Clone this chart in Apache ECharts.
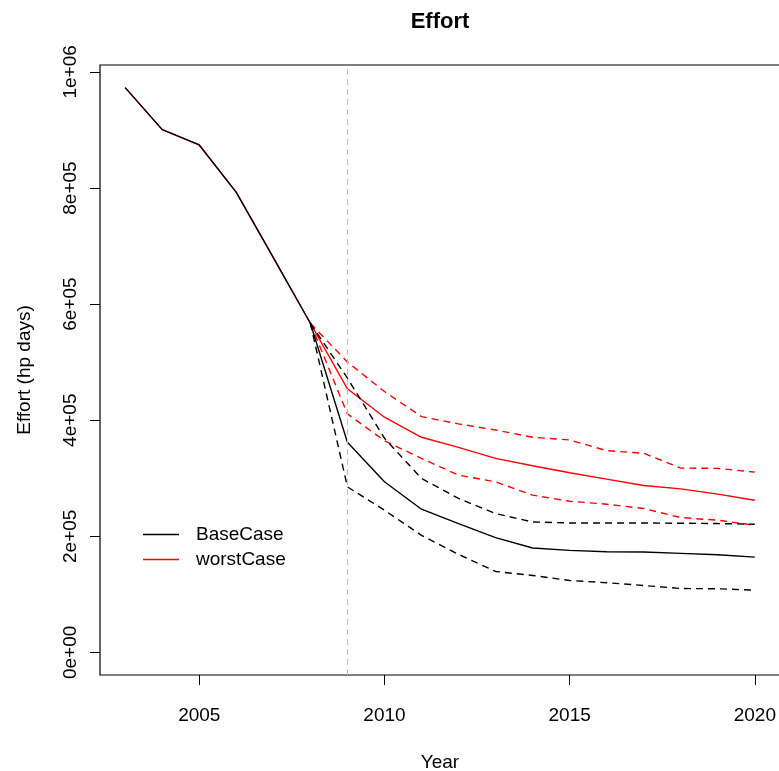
<!DOCTYPE html>
<html lang="en">
<head>
    <meta charset="UTF-8">
    <title>Effort</title>
    <script src="https://cdn.jsdelivr.net/npm/echarts@6/dist/echarts.min.js"></script>
</head>
<body style="margin:0">
<div id="echarts" style="width: 779px;height:771px"></div>
<script>
    // historical effort 2003-2008
    var histYears = [2003, 2004, 2005, 2006, 2007, 2008];
    var histEffort = [973000, 900600, 874200, 792400, 680000, 567000];

    // projections 2009-2020
    var projYears = [2009, 2010, 2011, 2012, 2013, 2014, 2015, 2016, 2017, 2018, 2019, 2020];
    var baseMean = [362000, 293900, 246700, 222000, 197800, 179800, 175800, 173500, 172900, 170600, 168300, 164200];
    var baseLow = [285200, 245000, 201700, 168900, 139500, 132600, 123900, 120000, 115300, 110100, 109600, 107200];
    var baseHigh = [472600, 369000, 299700, 265200, 239200, 224700, 223000, 223000, 223000, 222500, 222000, 220800];
    var worstMean = [454100, 405200, 370600, 353300, 334300, 321500, 309400, 298500, 287600, 281800, 272600, 262200];
    var worstLow = [410900, 364700, 334300, 305400, 293900, 270900, 260500, 255300, 247900, 232300, 227700, 219000];
    var worstHigh = [500300, 449400, 406200, 393600, 383200, 370600, 366000, 347500, 343000, 317500, 317000, 310600];

    var xTicks = [2005, 2010, 2015, 2020];
    var yTicks = [0, 200000, 400000, 600000, 800000, 1000000];
    var yTickLabels = ['0e+00', '2e+05', '4e+05', '6e+05', '8e+05', '1e+06'];
    var projStart = 2009;

    var font = 'Liberation Sans, Arial, sans-serif';

    function pairs(xs, ys) {
        return xs.map(function (x, i) { return [x, ys[i]]; });
    }
    // full series = history + projection
    function full(proj) {
        return pairs(histYears, histEffort).concat(pairs(projYears, proj));
    }
    // bound = last historical point + projection
    function bound(proj) {
        var n = histYears.length - 1;
        return [[histYears[n], histEffort[n]]].concat(pairs(projYears, proj));
    }

    function lineSeries(name, data, color, dashed) {
        return {
            name: name,
            type: 'line',
            data: data,
            symbol: 'none',
            silent: true,
            lineStyle: {color: color, width: 1.4, type: dashed ? [7, 5] : 'solid'},
            itemStyle: {color: color}
        };
    }

    var chartDom = document.getElementById('echarts');
    var myChart = echarts.init(chartDom);
    var option;

    var series = [
        lineSeries('worstCase', full(worstMean), '#ff0000', false),
        lineSeries('worst high', bound(worstHigh), '#ff0000', true),
        lineSeries('worst low', bound(worstLow), '#ff0000', true),
        lineSeries('BaseCase', full(baseMean), '#000000', false),
        lineSeries('base high', bound(baseHigh), '#000000', true),
        lineSeries('base low', bound(baseLow), '#000000', true)
    ];
    // grey start-of-projection line
    series[0].markLine = {
        silent: true,
        symbol: ['none', 'none'],
        label: {show: false},
        lineStyle: {color: '#bebebe', type: [6, 4], width: 1},
        data: [{xAxis: projStart}]
    };

    option = {
        animation: false,
        backgroundColor: '#fff',
        title: {
            text: 'Effort',
            left: 435,
            top: 6,
            textAlign: 'center',
            textStyle: {fontFamily: font, fontSize: 22, fontWeight: 'bold', color: '#000'}
        },
        legend: {
            data: [{name: 'BaseCase', icon: 'rect'}, {name: 'worstCase', icon: 'rect'}],
            orient: 'vertical',
            left: 143,
            top: 525,
            itemWidth: 36,
            itemHeight: 1.4,
            itemGap: 6,
            padding: 0,
            textStyle: {fontFamily: font, fontSize: 19, lineHeight: 14, color: '#000', padding: [0, 0, 0, 12]}
        },
        grid: {
            left: 100,
            top: 65,
            width: 680,
            height: 610,
            outerBoundsMode: 'none',
            containLabel: false,
            show: true,
            borderColor: '#000',
            borderWidth: 1.2,
            backgroundColor: 'transparent'
        },
        xAxis: {
            type: 'value',
            min: 2002.32,
            max: 2020.68,
            name: 'Year',
            nameLocation: 'middle',
            nameGap: 78,
            nameTextStyle: {fontFamily: font, fontSize: 19, color: '#000'},
            axisLine: {show: false, onZero: false},
            splitLine: {show: false},
            axisTick: {show: true, inside: false, length: 10, lineStyle: {color: '#000'}, customValues: xTicks},
            axisLabel: {
                fontFamily: font, fontSize: 19, color: '#000', margin: 31,
                customValues: xTicks,
                formatter: function (v) { return String(v); }
            }
        },
        yAxis: {
            type: 'value',
            min: -38920,
            max: 1011920,
            name: 'Effort (hp days)',
            nameLocation: 'middle',
            nameRotate: 90,
            nameGap: 66,
            nameTextStyle: {fontFamily: font, fontSize: 19, color: '#000'},
            axisLine: {show: false, onZero: false},
            splitLine: {show: false},
            axisTick: {show: true, inside: false, length: 10, lineStyle: {color: '#000'}, customValues: yTicks},
            axisLabel: {
                fontFamily: font, fontSize: 19, color: '#000', margin: 20, rotate: 90,
                customValues: yTicks,
                formatter: function (v) {
                    var i = yTicks.indexOf(v);
                    return i >= 0 ? yTickLabels[i] : '';
                }
            }
        },
        series: series
    };

    option && myChart.setOption(option);
</script>
</body>
</html>
